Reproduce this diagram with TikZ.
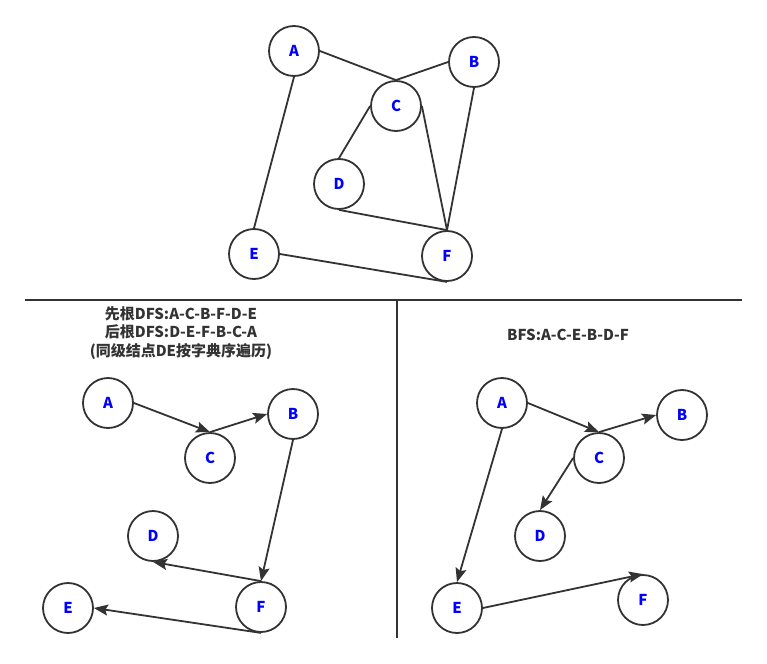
\documentclass[tikz,border=0pt]{standalone}
\usepackage{fontspec}
\setmainfont{Noto Sans CJK SC}
\usetikzlibrary{arrows.meta}
\definecolor{ink}{HTML}{333333}
\tikzset{
  vtx/.style={circle,draw=ink,line width=1.8pt,minimum size=50pt,inner sep=0pt,
    text=blue,font=\fontsize{15pt}{17pt}\selectfont\bfseries},
  edge/.style={draw=ink,line width=1.8pt},
  arc/.style={edge,-{Stealth[length=14pt,width=11pt,inset=2.5pt]}},
  sep/.style={draw=ink,line width=2pt},
  captext/.style={text=ink,align=center,font=\fontsize{15pt}{18.5pt}\selectfont\bfseries}
}
\begin{document}
\begin{tikzpicture}[x=1pt,y=-1pt]
\useasboundingbox (0,0) rectangle (767,663);
% top graph
\node[vtx] (A) at (294,51) {A};
\node[vtx] (B) at (474,62) {B};
\node[vtx] (C) at (396,106) {C};
\node[vtx] (D) at (339,184) {D};
\node[vtx] (E) at (254,254) {E};
\node[vtx] (F) at (447,256) {F};
\draw[edge] (A.east) -- (C.north);
\draw[edge] (B.west) -- (C.north);
\draw[edge] (C.west) -- (D.north);
\draw[edge] (C.east) -- (F.north);
\draw[edge] (B.south) -- (F.north);
\draw[edge] (D.south) -- (F.north);
\draw[edge] (A.south) -- (E.north);
\draw[edge] (E.east) -- (F.south);
% separators
\coordinate (h1) at (25,300);
\coordinate (h2) at (742,300);
\coordinate (v1) at (397,300);
\coordinate (v2) at (397,638);
\draw[sep] (h1) -- (h2);
\draw[sep] (v1) -- (v2);
% DFS
\node[captext] (dfst) at (181,333) {先根DFS:A-C-B-F-D-E\\后根DFS:D-E-F-B-C-A\\(同级结点DE按字典序遍历)};
\node[vtx] (lA) at (108,403) {A};
\node[vtx] (lB) at (293,414) {B};
\node[vtx] (lC) at (210,458) {C};
\node[vtx] (lD) at (153,536) {D};
\node[vtx] (lE) at (68,608) {E};
\node[vtx] (lF) at (261,607) {F};
\draw[arc] (lA.east) -- (lC.north);
\draw[arc] (lC.north) -- (lB.west);
\draw[arc] (lB.south) -- (lF.north);
\draw[arc] (lF.north) -- (lD.south);
\draw[arc] (lF.south) -- (lE.east);
% BFS
\node[captext] (bfst) at (568,335) {BFS:A-C-E-B-D-F};
\node[vtx] (rA) at (502,403) {A};
\node[vtx] (rB) at (682,415) {B};
\node[vtx] (rC) at (599,458) {C};
\node[vtx] (rD) at (540,536) {D};
\node[vtx] (rE) at (457,608) {E};
\node[vtx] (rF) at (643,600) {F};
\draw[arc] (rA.east) -- (rC.north);
\draw[arc] (rC.north) -- (rB.west);
\draw[arc] (rC.west) -- (rD.north);
\draw[arc] (rA.south) -- (rE.north);
\draw[arc] (rE.east) -- (rF.north);
\end{tikzpicture}
\end{document}
